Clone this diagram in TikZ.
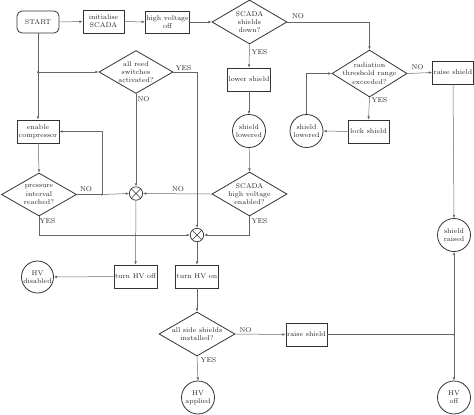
\documentclass[tikz,border=0pt]{standalone}
\usetikzlibrary{shapes.geometric,arrows.meta}
\begin{document}
\begin{tikzpicture}[x=1bp,y=-1bp,
  every node/.style={font=\fontsize{7}{8.3}\selectfont, text=black!85},
  box/.style={draw=black!80, line width=0.8bp, rectangle, minimum width=41bp, minimum height=23bp, inner sep=1bp, align=center},
  startbox/.style={box, rounded corners=5bp, minimum width=42bp, minimum height=22bp},
  dec/.style={draw=black!80, line width=0.8bp, diamond, minimum width=75bp, minimum height=44bp, inner sep=0pt},
  dtext/.style={align=center, inner sep=0pt},
  term/.style={draw=black!80, line width=0.8bp, circle, minimum size=33bp, inner sep=0pt, align=center},
  merge/.style={draw=black!80, line width=0.7bp, circle, minimum size=13.4bp, inner sep=0pt},
  conn/.style={draw=black!60, line width=0.5bp, -{Latex[length=3.2bp,width=2.6bp]}},
  plain/.style={draw=black!60, line width=0.5bp},
  lab/.style={inner sep=0pt},
  dot/.style={circle, fill=black!80, inner sep=0pt, minimum size=2bp}
]
\useasboundingbox (0,0) rectangle (474,414);

% top row
\node[startbox] (start) at (38,22) {START};
\node[box] (init) at (103.5,21.5) {initialise\\SCADA};
\node[box, minimum width=39bp, minimum height=22bp] (hvoff) at (167.5,22) {high voltage\\off};
\node[dec] (d1) at (249.5,22) {};
\node[dtext] (d1t) at (d1) {SCADA\\shields\\down?};

\node[dec, minimum height=47bp] (d2) at (369.5,73.5) {};
\node[dtext] (d2t) at (d2) {radiation\\threshold range\\exceeded?};
\node[box] (raise1) at (453,72.5) {raise shield};

\node[box, minimum width=40bp] (lower) at (249,79.5) {lower shield};
\node[box] (lock) at (368.5,131.5) {lock shield};
\node[term] (sl1) at (249,131) {shield\\lowered};
\node[term] (sl2) at (306.5,131) {shield\\lowered};

\node[dec] (d3) at (249.5,194) {};
\node[dtext] (d3t) at (d3) {SCADA\\high voltage\\enabled?};

\node[dec, minimum width=74bp, minimum height=43bp] (reed) at (136,72) {};
\node[dtext] (reedt) at (reed) {all reed\\switches\\activated?};

\node[box, minimum width=42bp] (comp) at (38,131.5) {enable\\compressor};
\node[dec, minimum height=43bp] (press) at (39,194.5) {};
\node[dtext] (presst) at (press) {pressure\\interval\\reached?};

\node[merge] (m1) at (136,193.5) {};
\node[merge] (m2) at (197,235) {};
\draw[black!80, line width=0.6bp] (m1.north west) -- (m1.south east) (m1.north east) -- (m1.south west);
\draw[black!80, line width=0.6bp] (m2.north west) -- (m2.south east) (m2.north east) -- (m2.south west);

\node[box] (toff) at (135.5,276.5) {turn HV off};
\node[box] (ton) at (197,276.5) {turn HV on};
\node[term, minimum size=32bp] (hvdis) at (37.5,277) {HV\\disabled};

\node[dec, minimum width=76bp] (side) at (197,334) {};
\node[dtext] (sidet) at (side) {all side shields\\installed?};
\node[box] (raise2) at (306.5,334.5) {raise shield};

\node[term] (sraised) at (454,235) {shield\\raised};
\node[term] (hvapp) at (198,397.5) {HV\\applied};
\node[term] (hvoffc) at (454,397.5) {HV\\off};

% junctions
\coordinate (j1) at (38,72);
\coordinate (j2) at (102,194.5);
\coordinate (j3) at (454,334.5);
\node[dot] (j1d) at (j1) {};
\node[dot] (j2d) at (j2) {};
\node[dot] (j3d) at (j3) {};

% connectors
\draw[conn] (start) -- (init);
\draw[conn] (init) -- (hvoff);
\draw[conn] (hvoff) -- (d1);
\draw[conn] (d1.east) -| (d2.north);
\node[lab] (no1) at (298,16.5) {NO};
\draw[conn] (d1.south) -- (lower.north);
\node[lab] (yes1) at (259.5,52) {YES};
\draw[conn] (lower) -- (sl1);
\draw[conn] (sl1) -- (d3.north);
\draw[conn] (d2.east) -- (raise1.west);
\node[lab] (no2) at (417.5,67) {NO};
\draw[conn] (d2.south) -- (lock.north);
\node[lab] (yes2) at (379.5,100) {YES};
\draw[conn] (lock) -- (sl2);
\draw[conn] (sl2.north) |- (d2.west);
\draw[conn] (raise1.south) -- (sraised.north);

\draw[plain] (start.south) -- (j1);
\draw[conn] (j1) -- (comp.north);
\draw[conn] (j1) -- (reed.west);
\draw[conn] (reed.east) -| (m2.north);
\node[lab] (yes3) at (183.5,68) {YES};
\draw[conn] (reed.south) -- (m1.north);
\node[lab] (no3) at (143.5,99.5) {NO};

\draw[conn] (comp) -- (press.north);
\draw[plain] (press.east) -- (j2);
\draw[conn] (j2) -- (m1.west);
\node[lab] (no4) at (86,189) {NO};
\draw[conn] (j2) |- (comp.east);
\draw[conn] (press.south) |- (m2.west);
\node[lab] (yes4) at (47.5,221.5) {YES};

\draw[conn] (d3.west) -- (m1.east);
\node[lab] (no5) at (178,189) {NO};
\draw[conn] (d3.south) |- (m2.east);
\node[lab] (yes5) at (259.5,221.5) {YES};

\draw[conn] (m1.south) -- (toff.north);
\draw[conn] (m2.south) -- (ton.north);
\draw[conn] (toff) -- (hvdis);
\draw[conn] (ton) -- (side.north);
\draw[conn] (side.east) -- (raise2.west);
\node[lab] (no6) at (245.5,330) {NO};
\draw[conn] (side.south) -- (hvapp.north);
\node[lab] (yes6) at (208.5,360) {YES};
\draw[plain] (raise2.east) -- (j3);
\draw[conn] (j3) -- (sraised.south);
\draw[conn] (j3) -- (hvoffc.north);
\end{tikzpicture}
\end{document}
